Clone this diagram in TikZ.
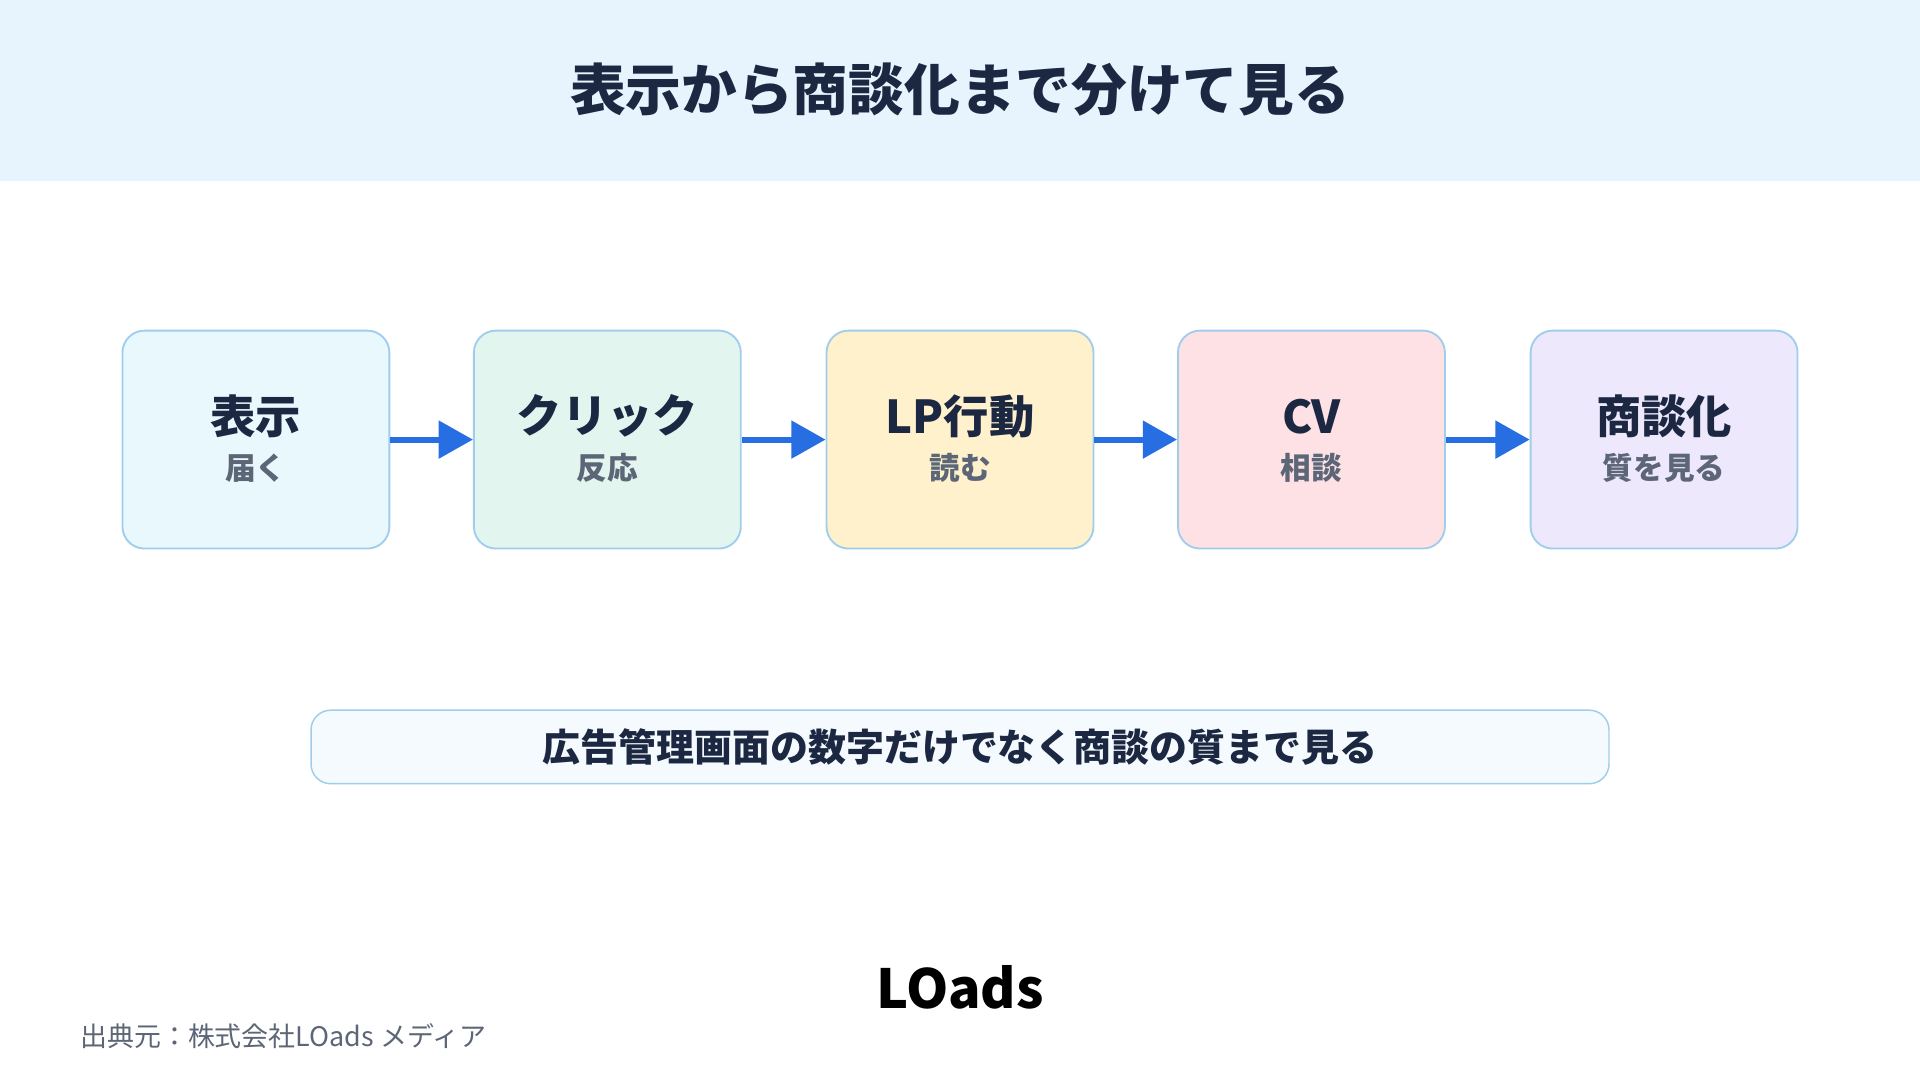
\documentclass[tikz,border=0pt]{standalone}
\usepackage{fontspec}
\setmainfont{Noto Sans CJK JP}
\usetikzlibrary{arrows.meta,positioning}
\definecolor{headercolor}{RGB}{232, 244, 253}
\definecolor{textcolor}{RGB}{28, 40, 66}
\definecolor{subcolor}{RGB}{92, 102, 118}
\definecolor{edgecolor}{RGB}{160, 205, 236}
\definecolor{arrowcolor}{RGB}{38, 110, 226}
\definecolor{boxcolor1}{RGB}{232, 248, 253}
\definecolor{boxcolor2}{RGB}{226, 246, 239}
\definecolor{boxcolor3}{RGB}{255, 241, 204}
\definecolor{boxcolor4}{RGB}{253, 225, 229}
\definecolor{boxcolor5}{RGB}{237, 232, 252}
\definecolor{notecolor}{RGB}{244, 250, 254}
\begin{document}
\begin{tikzpicture}[x=1pt, y=-1pt,
  stage/.style={draw=edgecolor, line width=1.5pt, rounded corners=18pt,
    minimum width=218pt, minimum height=178pt, inner sep=0pt},
  flow/.style={arrowcolor, line width=5pt, -{Triangle[length=28pt,width=30pt]}}]
  % Background and header
  \useasboundingbox (0,0) rectangle (1568,882);
  \fill[white] (0,0) rectangle (1568,882);
  \fill[headercolor] (0,0) rectangle (1568,148);
  \node[font=\fontsize{45.5}{50}\selectfont\bfseries, text=textcolor] (title) at (784,73) {表示から商談化まで分けて見る};

  % Stages
  \foreach \i/\x/\main/\sub in {1/209/表示/届く, 2/496/クリック/反応, 3/784/LP行動/読む, 4/1071/CV/相談, 5/1359/商談化/質を見る} {
    \node[stage, fill=boxcolor\i] (S\i) at (\x,359) {};
    \node[font=\fontsize{37}{40}\selectfont\bfseries, text=textcolor] (M\i) at (\x,340) {\main};
    \node[font=\fontsize{25}{28}\selectfont\bfseries, text=subcolor] (T\i) at (\x,382) {\sub};
  }

  % Arrows
  \foreach \i [evaluate=\i as \j using int(\i+1)] in {1,...,4} {
    \draw[flow] (S\i.east) -- (S\j.west);
  }

  % Note
  \node[draw=edgecolor, line width=1.2pt, fill=notecolor, rounded corners=16pt,
    minimum width=1060pt, minimum height=60pt,
    font=\fontsize{31}{34}\selectfont\bfseries, text=textcolor] (note) at (784,610)
    {広告管理画面の数字だけでなく商談の質まで見る};

  % Logo and source
  \node[font=\fontsize{44}{48}\selectfont\bfseries, text=black] (logo) at (784,806) {LOads};
  \node[anchor=west, font=\fontsize{22}{26}\selectfont, text=subcolor] (source) at (62,846) {出典元：株式会社LOads メディア};
\end{tikzpicture}
\end{document}
